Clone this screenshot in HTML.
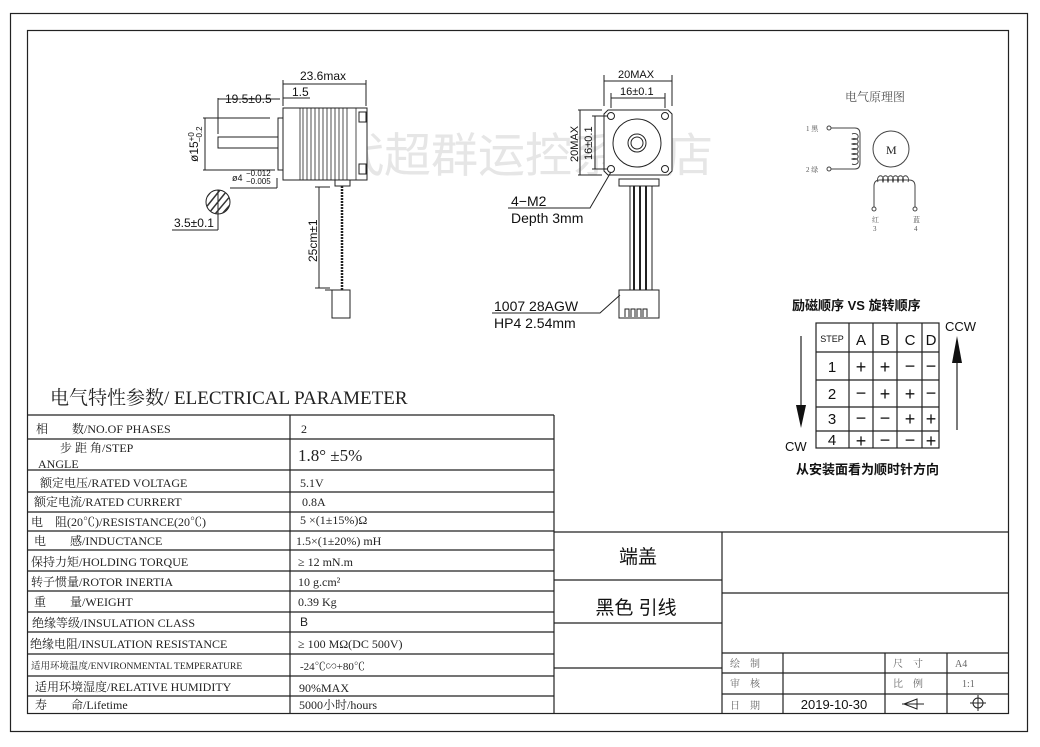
<!DOCTYPE html>
<html><head><meta charset="utf-8"><style>
html,body{margin:0;padding:0;background:#fff;}
svg{display:block;}
.s{font-family:"Liberation Serif","Noto Serif CJK SC",serif;}
.a{font-family:"Liberation Sans","Noto Sans CJK SC",sans-serif;}
</style></head><body>
<svg width="1040" height="747" viewBox="0 0 1040 747" xmlns="http://www.w3.org/2000/svg">
<rect x="10.5" y="13.5" width="1017" height="718" fill="none" stroke="#222" stroke-width="1.2"/>
<rect x="27.5" y="30.5" width="981" height="683" fill="none" stroke="#222" stroke-width="1.2"/>

<!-- watermark -->
<text x="290" y="172" class="a" font-size="47" fill="#e6e6e6">时代超群运控系统店</text>

<!-- side view -->
<g stroke="#222" fill="none" stroke-width="1">
<rect x="283" y="108" width="84" height="72" fill="#fff"/>
<rect x="278" y="118" width="5" height="52" fill="#fff"/>
<rect x="218" y="137" width="60" height="11" fill="#fff"/>
<g stroke-width="0.8">
<line x1="300" y1="108" x2="300" y2="180"/><line x1="303" y1="108" x2="303" y2="180"/>
<line x1="307" y1="108" x2="307" y2="180"/><line x1="311" y1="108" x2="311" y2="180"/>
<line x1="315" y1="108" x2="315" y2="180"/><line x1="319" y1="108" x2="319" y2="180"/>
<line x1="323" y1="108" x2="323" y2="180"/><line x1="327" y1="108" x2="327" y2="180"/>
<line x1="331" y1="108" x2="331" y2="180"/><line x1="335" y1="108" x2="335" y2="180"/>
<line x1="339" y1="108" x2="339" y2="180"/><line x1="343" y1="108" x2="343" y2="180"/>
<line x1="347" y1="108" x2="347" y2="180"/><line x1="356" y1="108" x2="356" y2="180"/>
</g>
<rect x="359" y="112" width="7" height="10"/><rect x="359" y="164" width="7" height="10"/>
<rect x="335" y="180" width="15" height="6"/>
<line x1="342" y1="186" x2="342" y2="290" stroke-width="2.5" stroke-dasharray="2 1"/>
<rect x="332" y="290" width="18" height="28"/>
<line x1="325" y1="290" x2="350" y2="290"/>
<line x1="283" y1="80" x2="283" y2="106"/><line x1="366" y1="80" x2="366" y2="106"/>
<line x1="283" y1="84" x2="366" y2="84"/>
<line x1="218" y1="98" x2="218" y2="134"/><line x1="218" y1="99" x2="280" y2="99"/>
<line x1="283" y1="98" x2="310" y2="98"/>
<line x1="203" y1="118" x2="270" y2="118"/><line x1="203" y1="170" x2="275" y2="170"/>
<line x1="205" y1="118" x2="205" y2="170"/>
<line x1="277" y1="178" x2="277" y2="188"/><line x1="230" y1="188" x2="277" y2="188"/>
<line x1="315" y1="187" x2="330" y2="187"/><line x1="319" y1="187" x2="319" y2="288"/><line x1="315" y1="288" x2="330" y2="288"/>
<circle cx="218" cy="202" r="12" fill="#fff"/>
<line x1="218" y1="190" x2="218" y2="230"/><line x1="172" y1="230" x2="218" y2="230"/>
</g>
<g stroke="#333" stroke-width="1.5" clip-path="url(#cc)">
<clipPath id="cc"><circle cx="218" cy="202" r="12"/></clipPath>
<line x1="200" y1="215" x2="220" y2="190"/><line x1="205" y1="218" x2="226" y2="192"/>
<line x1="210" y1="220" x2="232" y2="194"/><line x1="215" y1="222" x2="236" y2="198"/>
<line x1="196" y1="210" x2="214" y2="188"/><line x1="220" y1="224" x2="240" y2="202"/>
</g>
<g class="a" font-size="12" fill="#111">
<text x="300" y="80">23.6max</text>
<text x="292" y="96">1.5</text>
<text x="225" y="103">19.5±0.5</text>
<text x="232" y="181" font-size="9">ø4</text><text x="246" y="176" font-size="8">−0.012</text><text x="246" y="184" font-size="8">−0.005</text>
<text x="174" y="227">3.5±0.1</text>
<text transform="translate(198,162) rotate(-90)">ø15<tspan font-size="8" dy="-4">+0</tspan><tspan font-size="8" dx="-10" dy="8">−0.2</tspan></text>
<text transform="translate(317,262) rotate(-90)">25cm±1</text>
</g>

<!-- front view -->
<g stroke="#222" fill="none" stroke-width="1">
<path d="M608 110 H668 L672 114 V171 L668 175 H608 L604 171 V114 Z" fill="#fff"/>
<circle cx="637" cy="143" r="24"/><circle cx="637" cy="143" r="9"/><circle cx="637" cy="143" r="6"/>
<circle cx="611" cy="116" r="3.5"/><circle cx="665" cy="116" r="3.5"/><circle cx="611" cy="169" r="3.5"/><circle cx="665" cy="169" r="3.5"/>
<rect x="619" y="179" width="40" height="7" fill="#fff"/>
<rect x="630" y="186" width="22" height="104" fill="#fff"/>
<line x1="634" y1="186" x2="634" y2="290" stroke-width="2"/><line x1="640" y1="186" x2="640" y2="290" stroke-width="2"/>
<line x1="646" y1="186" x2="646" y2="290" stroke-width="2"/>
<rect x="619" y="290" width="40" height="28"/>
<path d="M625 317 v-8 h4 v8 M631 317 v-8 h4 v8 M637 317 v-8 h4 v8 M643 317 v-8 h4 v8"/>
<line x1="604" y1="75" x2="604" y2="106"/><line x1="672" y1="75" x2="672" y2="106"/>
<line x1="604" y1="81" x2="672" y2="81"/>
<line x1="611" y1="93" x2="611" y2="108"/><line x1="665" y1="93" x2="665" y2="108"/>
<line x1="611" y1="98" x2="665" y2="98"/>
<line x1="578" y1="110" x2="602" y2="110"/><line x1="578" y1="175" x2="602" y2="175"/>
<line x1="580" y1="110" x2="580" y2="175"/>
<line x1="592" y1="116" x2="608" y2="116"/><line x1="592" y1="169" x2="608" y2="169"/>
<line x1="595" y1="116" x2="595" y2="169"/>
<path d="M611 172 L590 208 H508"/>
<path d="M620 295 L600 313 H492"/>
</g>
<g class="a" fill="#111">
<text x="618" y="78" font-size="11">20MAX</text>
<text x="620" y="95" font-size="11">16±0.1</text>
<text transform="translate(578,162) rotate(-90)" font-size="11">20MAX</text>
<text transform="translate(592,160) rotate(-90)" font-size="11">16±0.1</text>
<text x="511" y="206" font-size="14">4−M2</text>
<text x="511" y="223" font-size="14">Depth 3mm</text>
<text x="494" y="311" font-size="14">1007 28AGW</text>
<text x="494" y="328" font-size="14">HP4 2.54mm</text>
</g>

<!-- schematic -->
<g class="s" fill="#555" font-size="12">
<text x="845" y="101">电气原理图</text>
<text x="806" y="131" font-size="7">1 黑</text><text x="806" y="172" font-size="7">2 绿</text>
<text x="872" y="222" font-size="7">红</text><text x="873" y="231" font-size="7">3</text>
<text x="913" y="222" font-size="7">蓝</text><text x="914" y="231" font-size="7">4</text>
<text x="886" y="154" font-size="12" fill="#222">M</text>
</g>
<g stroke="#444" fill="none" stroke-width="1">
<circle cx="829" cy="128" r="2"/><circle cx="829" cy="169" r="2"/>
<path d="M831 128 H855 Q860 128 860 134 V163 Q860 169 855 169 H831"/>
<path d="M852 134 a4 3 0 1 1 0 5 a4 3 0 1 1 0 5 a4 3 0 1 1 0 5 a4 3 0 1 1 0 5 a4 3 0 1 1 0 5 a4 3 0 1 1 0 5"/>
<circle cx="891" cy="149" r="18"/>
<circle cx="874" cy="209" r="2"/><circle cx="915" cy="209" r="2"/>
<path d="M874 207 V186 Q874 180 880 180 H909 Q915 180 915 186 V207"/>
<path d="M878 182 a3 4 0 1 1 5 0 a3 4 0 1 1 5 0 a3 4 0 1 1 5 0 a3 4 0 1 1 5 0 a3 4 0 1 1 5 0 a3 4 0 1 1 5 0"/>
</g>

<!-- step table -->
<g class="a" fill="#111">
<text x="792" y="310" font-size="13" font-weight="bold">励磁顺序 VS 旋转顺序</text>
<text x="796" y="474" font-size="13" font-weight="bold">从安装面看为顺时针方向</text>
<text x="945" y="331" font-size="13">CCW</text>
<text x="785" y="451" font-size="13">CW</text>
</g>
<g stroke="#222" fill="none" stroke-width="1.2">
<rect x="816" y="323" width="123" height="125"/>
<line x1="849" y1="323" x2="849" y2="448"/><line x1="873" y1="323" x2="873" y2="448"/>
<line x1="897" y1="323" x2="897" y2="448"/><line x1="922" y1="323" x2="922" y2="448"/>
<line x1="816" y1="352" x2="939" y2="352"/><line x1="816" y1="380" x2="939" y2="380"/>
<line x1="816" y1="407" x2="939" y2="407"/><line x1="816" y1="431" x2="939" y2="431"/>
<line x1="801" y1="336" x2="801" y2="410"/>
<line x1="957" y1="360" x2="957" y2="430"/>
</g>
<path d="M796 405 L801 428 L806 405 Z" fill="#111"/>
<path d="M952 363 L957 336 L962 363 Z" fill="#111"/>
<g class="a" fill="#111" font-size="15" text-anchor="middle">
<text x="832" y="342" font-size="9">STEP</text><text x="861" y="345">A</text><text x="885" y="345">B</text><text x="910" y="345">C</text><text x="931" y="345">D</text>
<text x="832" y="372">1</text><text x="861" y="373" font-size="18">+</text><text x="885" y="373" font-size="18">+</text><text x="910" y="372" font-size="18">−</text><text x="931" y="372" font-size="18">−</text>
<text x="832" y="399">2</text><text x="861" y="399" font-size="18">−</text><text x="885" y="400" font-size="18">+</text><text x="910" y="400" font-size="18">+</text><text x="931" y="399" font-size="18">−</text>
<text x="832" y="424">3</text><text x="861" y="424" font-size="18">−</text><text x="885" y="424" font-size="18">−</text><text x="910" y="425" font-size="18">+</text><text x="931" y="425" font-size="18">+</text>
<text x="832" y="445">4</text><text x="861" y="447" font-size="18">+</text><text x="885" y="446" font-size="18">−</text><text x="910" y="446" font-size="18">−</text><text x="931" y="447" font-size="18">+</text>
</g>

<!-- parameter table -->
<text x="50" y="404" class="s" font-size="19" fill="#222">电气特性参数/ ELECTRICAL PARAMETER</text>
<g stroke="#222" stroke-width="1.2" fill="none">
<line x1="27" y1="415" x2="554" y2="415"/>
<line x1="290" y1="415" x2="290" y2="714"/>
<line x1="554" y1="415" x2="554" y2="714"/>
<line x1="27" y1="439" x2="554" y2="439"/><line x1="27" y1="470" x2="554" y2="470"/>
<line x1="27" y1="492" x2="554" y2="492"/><line x1="27" y1="512" x2="554" y2="512"/>
<line x1="27" y1="531" x2="554" y2="531"/><line x1="27" y1="550" x2="554" y2="550"/>
<line x1="27" y1="571" x2="554" y2="571"/><line x1="27" y1="591" x2="554" y2="591"/>
<line x1="27" y1="612" x2="554" y2="612"/><line x1="27" y1="632" x2="554" y2="632"/>
<line x1="27" y1="654" x2="554" y2="654"/><line x1="27" y1="676" x2="554" y2="676"/>
<line x1="27" y1="696" x2="554" y2="696"/>
<line x1="554" y1="532" x2="1009" y2="532"/>
<line x1="722" y1="532" x2="722" y2="714"/>
<line x1="554" y1="580" x2="722" y2="580"/><line x1="554" y1="623" x2="722" y2="623"/><line x1="554" y1="668" x2="722" y2="668"/>
<line x1="722" y1="593" x2="1009" y2="593"/><line x1="722" y1="653" x2="1009" y2="653"/>
<line x1="722" y1="673" x2="1009" y2="673"/><line x1="722" y1="694" x2="1009" y2="694"/>
<line x1="783" y1="653" x2="783" y2="714"/><line x1="885" y1="653" x2="885" y2="714"/><line x1="947" y1="653" x2="947" y2="714"/>
</g>
<g class="s" fill="#222" font-size="12">
<text x="36" y="433">相　　数/NO.OF PHASES</text>
<text x="60" y="452">步 距 角/STEP</text><text x="38" y="468">ANGLE</text>
<text x="40" y="487">额定电压/RATED VOLTAGE</text>
<text x="34" y="506">额定电流/RATED CURRERT</text>
<text x="31" y="526">电　阻(20℃)/RESISTANCE(20℃)</text>
<text x="34" y="545">电　　感/INDUCTANCE</text>
<text x="31" y="566">保持力矩/HOLDING TORQUE</text>
<text x="31" y="586">转子惯量/ROTOR INERTIA</text>
<text x="34" y="606">重　　量/WEIGHT</text>
<text x="32" y="627">绝缘等级/INSULATION  CLASS</text>
<text x="30" y="648">绝缘电阻/INSULATION  RESISTANCE</text>
<text x="31" y="669" font-size="9.5">适用环境温度/ENVIRONMENTAL TEMPERATURE</text>
<text x="35" y="691">适用环境湿度/RELATIVE HUMIDITY</text>
<text x="35" y="709">寿　　命/Lifetime</text>
<text x="301" y="433">2</text>
<text x="298" y="461" font-size="17">1.8°  ±5%</text>
<text x="300" y="487">5.1V</text>
<text x="302" y="506">0.8A</text>
<text x="300" y="524">5 ×(1±15%)Ω</text>
<text x="296" y="545">1.5×(1±20%) mH</text>
<text x="298" y="566">≥ 12 mN.m</text>
<text x="298" y="586">10 g.cm²</text>
<text x="298" y="606">0.39 Kg</text>
<text x="300" y="626" class="a">B</text>
<text x="298" y="648">≥ 100 MΩ(DC 500V)</text>
<text x="300" y="670" font-size="11">-24℃∽+80℃</text>
<text x="299" y="692">90%MAX</text>
<text x="299" y="709">5000小时/hours</text>
</g>
<g class="a" fill="#111" font-size="19">
<text x="638" y="563" text-anchor="middle">端盖</text>
<text x="636" y="614" text-anchor="middle">黑色 引线</text>
</g>
<g class="s" fill="#666" font-size="10">
<text x="730" y="667">绘　制</text><text x="730" y="687">审　核</text><text x="730" y="709">日　期</text>
<text x="893" y="667">尺　寸</text><text x="893" y="687">比　例</text>
<text x="955" y="667">A4</text><text x="962" y="687">1:1</text>
</g>
<text x="834" y="709" class="a" font-size="13" fill="#111" text-anchor="middle">2019-10-30</text>
<g stroke="#222" fill="none" stroke-width="1">
<path d="M904 704 L917 699 V709 Z"/><line x1="902" y1="704" x2="924" y2="704"/>
<circle cx="978" cy="703" r="5"/><line x1="970" y1="703" x2="986" y2="703"/><line x1="978" y1="695" x2="978" y2="711"/>
</g>
</svg>
</body></html>
